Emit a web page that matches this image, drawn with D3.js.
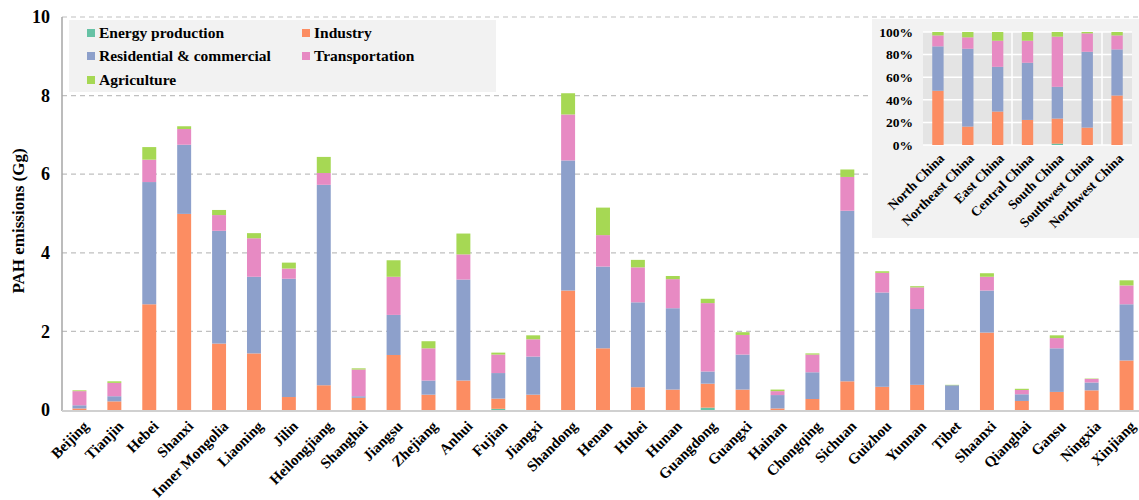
<!DOCTYPE html>
<html><head><meta charset="utf-8">
<script src="https://cdn.jsdelivr.net/npm/d3@7/dist/d3.min.js"></script>
<style>
body{margin:0;background:#fff;}
text{font-family:"Liberation Serif","Times New Roman",serif;font-weight:bold;fill:#000;}
</style></head>
<body><svg id="chart" width="1139" height="500"></svg>
<script>
const provinces = ["Beijing","Tianjin","Hebei","Shanxi","Inner Mongolia","Liaoning","Jilin","Heilongjiang","Shanghai","Jiangsu","Zhejiang","Anhui","Fujian","Jiangxi","Shandong","Henan","Hubei","Hunan","Guangdong","Guangxi","Hainan","Chongqing","Sichuan","Guizhou","Yunnan","Tibet","Shaanxi","Qianghai","Gansu","Ningxia","Xinjiang"];
const sectors = ["Energy production","Industry","Residential & commercial","Transportation","Agriculture"];
const colors = ["#66c2a5","#fc8d62","#8da0cb","#e78ac3","#a6d854"];
const energy      = [0,0,0,0,0,0,0,0,0,0,0,0,0.03,0,0,0,0,0,0.06,0,0,0,0,0,0,0,0,0,0,0,0];
const industry    = [0.04,0.22,2.69,4.99,1.69,1.44,0.33,0.63,0.31,1.40,0.39,0.75,0.26,0.39,3.04,1.57,0.58,0.52,0.61,0.52,0.04,0.28,0.73,0.59,0.64,0.00,1.97,0.23,0.46,0.50,1.26];
const residential = [0.08,0.13,3.11,1.76,2.87,1.95,3.01,5.10,0.04,1.02,0.36,2.57,0.65,0.97,3.31,2.08,2.16,2.07,0.31,0.89,0.34,0.68,4.34,2.40,1.93,0.63,1.07,0.17,1.11,0.20,1.43];
const transport   = [0.36,0.34,0.57,0.40,0.40,0.98,0.26,0.30,0.68,0.97,0.82,0.64,0.47,0.44,1.17,0.80,0.89,0.74,1.74,0.50,0.10,0.45,0.86,0.50,0.55,0.00,0.35,0.11,0.26,0.09,0.48];
const agriculture = [0.02,0.04,0.32,0.07,0.13,0.13,0.15,0.41,0.03,0.42,0.18,0.53,0.05,0.10,0.54,0.70,0.19,0.08,0.11,0.07,0.04,0.03,0.19,0.04,0.03,0.01,0.09,0.03,0.07,0.01,0.13];
const yTicks = [0,2,4,6,8,10];

const regions = ["North China","Northeast China","East China","Central China","South China","Southwest China","Northwest China"];
const rEnergy      = [0,0,0,0,1.2,0,0];
const rIndustry    = [48,16.3,29.6,22.2,22.2,15.4,43.8];
const rResidential = [39.3,68.9,39.6,50.6,28.1,67.1,40.8];
const rTransport   = [9.7,10.1,23.1,19.5,44.4,16.3,12.4];
const rAgriculture = [3.0,4.7,7.7,7.7,4.1,1.2,3.0];
const pctTicks = [0,20,40,60,80,100];

const svg = d3.select("#chart");
const series = [energy,industry,residential,transport,agriculture];
const rows = provinces.map((p,i)=>{const o={name:p}; sectors.forEach((s,k)=>o[s]=series[k][i]); return o;});
const stack = d3.stack().keys(sectors)(rows);

const x = d3.scaleBand().domain(provinces).range([62,1144]).paddingInner(0.6).paddingOuter(0.3);
const y = d3.scaleLinear().domain([0,10]).range([410,17]);

// gridlines
svg.append("g").selectAll("line").data(yTicks.filter(d=>d>0)).join("line")
  .attr("x1",62).attr("x2",1139).attr("y1",d=>y(d)).attr("y2",d=>y(d))
  .attr("stroke","#c0c0c0").attr("stroke-width",1.2).attr("stroke-dasharray","5,4");

// bars
svg.append("g").selectAll("g").data(stack).join("g").attr("fill",(d,i)=>colors[i])
  .selectAll("rect").data(d=>d).join("rect")
  .attr("x",d=>x(d.data.name)).attr("width",x.bandwidth())
  .attr("y",d=>y(d[1])).attr("height",d=>Math.max(0,y(d[0])-y(d[1])));

// axes lines
svg.append("line").attr("x1",62).attr("x2",62).attr("y1",17).attr("y2",411).attr("stroke","#a6a6a6").attr("stroke-width",1.5);
svg.append("line").attr("x1",62).attr("x2",1139).attr("y1",411).attr("y2",411).attr("stroke","#d0d0d0").attr("stroke-width",2);

// y axis via d3
const yAxis = svg.append("g").attr("transform","translate(62,0)").call(d3.axisLeft(y).tickValues(yTicks).tickSize(0).tickPadding(12));
yAxis.select(".domain").remove();
yAxis.selectAll("text").style("font-size","18px").style("font-family","Liberation Serif").style("font-weight","bold");

svg.append("text").attr("transform","translate(24,221) rotate(-90)").attr("text-anchor","middle")
  .style("font-size","17px").text("PAH emissions (Gg)");

// x labels
const xAxis = svg.append("g").attr("transform","translate(0,411)").call(d3.axisBottom(x).tickSize(0));
xAxis.select(".domain").remove();
xAxis.selectAll("text").style("font-size","15px").style("font-family","Liberation Serif").style("font-weight","bold")
  .attr("text-anchor","end").attr("dx","0").attr("dy","0")
  .attr("transform","translate(8,14) rotate(-45)");

// legend
svg.append("rect").attr("x",69).attr("y",20).attr("width",427).attr("height",72).attr("fill","#f2f2f2");
const legPos = [[87,33],[302,33],[87,56],[302,56],[87,80]];
sectors.forEach((s,i)=>{
  const g = svg.append("g").attr("transform",`translate(${legPos[i][0]},${legPos[i][1]})`);
  g.append("rect").attr("x",0).attr("y",-4).attr("width",8).attr("height",8).attr("fill",colors[i]);
  g.append("text").attr("x",12).attr("y",5).style("font-size","15.5px").text(s);
});

// inset
svg.append("rect").attr("x",872).attr("y",19).attr("width",267).attr("height",219).attr("fill","#f2f2f2");
const rRows = regions.map((r,i)=>({name:r,"Energy production":rEnergy[i],"Industry":rIndustry[i],"Residential & commercial":rResidential[i],"Transportation":rTransport[i],"Agriculture":rAgriculture[i]}));
const rStack = d3.stack().keys(sectors).offset(d3.stackOffsetExpand)(rRows);
const ix = d3.scaleBand().domain(regions).range([923,1132]).paddingInner(0.62).paddingOuter(0.31);
const iy = d3.scaleLinear().domain([0,1]).range([145,32]);
svg.append("rect").attr("x",923).attr("y",32).attr("width",209).attr("height",113).attr("fill","#e4e4e4");
svg.append("g").selectAll("line").data(pctTicks).join("line")
  .attr("x1",923).attr("x2",1132).attr("y1",d=>iy(d/100)).attr("y2",d=>iy(d/100))
  .attr("stroke","#ffffff").attr("stroke-width",1.5);
[1012,1102].forEach(v=>svg.append("line").attr("x1",v).attr("x2",v).attr("y1",32).attr("y2",145).attr("stroke","#fff").attr("stroke-width",1.5));
svg.append("g").selectAll("g").data(rStack).join("g").attr("fill",(d,i)=>colors[i])
  .selectAll("rect").data(d=>d).join("rect")
  .attr("x",d=>ix(d.data.name)).attr("width",ix.bandwidth())
  .attr("y",d=>iy(d[1])).attr("height",d=>Math.max(0,iy(d[0])-iy(d[1])));
const iyAxis = svg.append("g").attr("transform","translate(923,0)").call(d3.axisLeft(iy).tickValues(pctTicks.map(d=>d/100)).tickFormat(d=>Math.round(d*100)+"%").tickSize(0).tickPadding(10));
iyAxis.select(".domain").remove();
iyAxis.selectAll("text").style("font-size","13.5px").style("font-family","Liberation Serif").style("font-weight","bold");
const ixAxis = svg.append("g").attr("transform","translate(0,145)").call(d3.axisBottom(ix).tickSize(0));
ixAxis.select(".domain").remove();
ixAxis.selectAll("text").style("font-size","13.5px").style("font-family","Liberation Serif").style("font-weight","bold")
  .attr("text-anchor","end").attr("dx","0").attr("dy","0")
  .attr("transform","translate(5,12) rotate(-45)");
</script></body></html>
